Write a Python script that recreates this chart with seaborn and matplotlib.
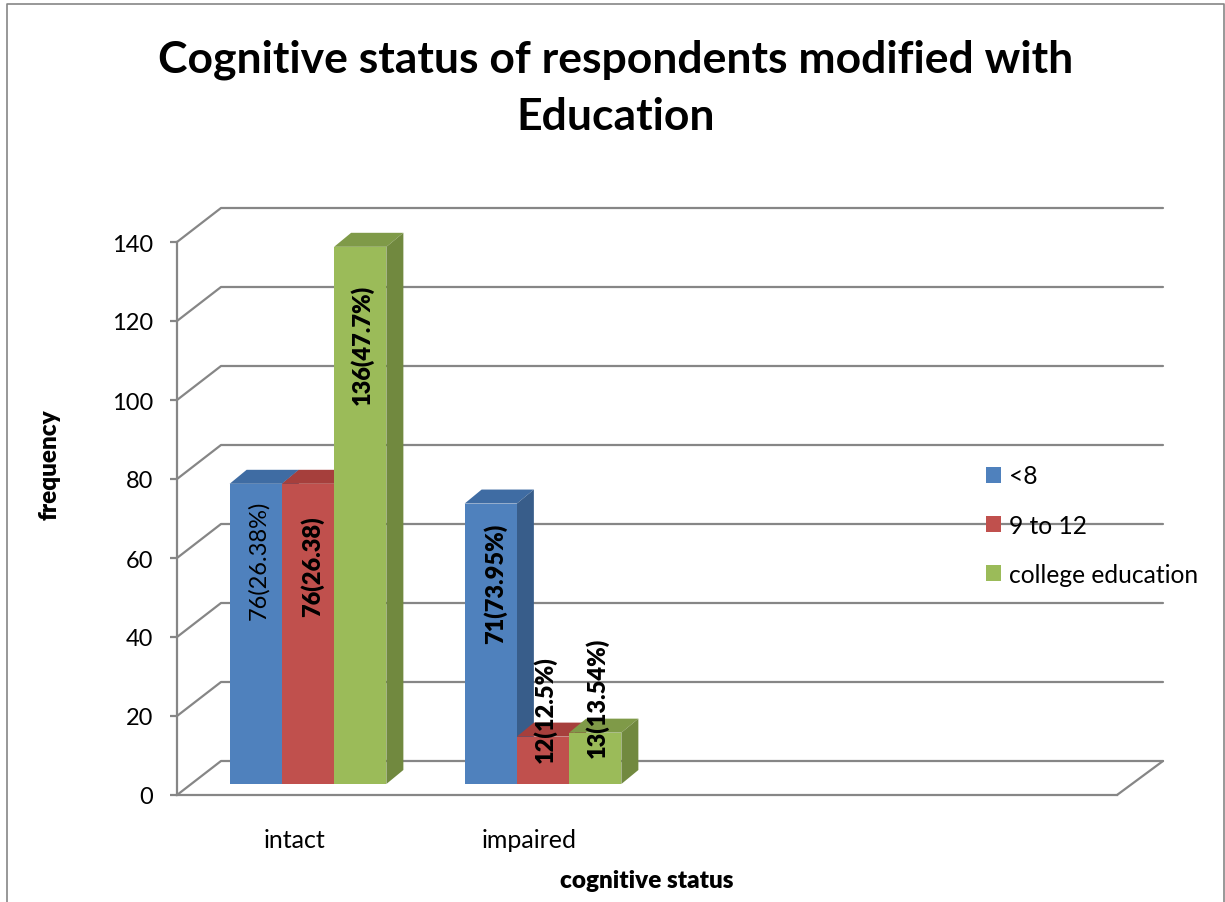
# Imports
import pandas as pd
import matplotlib
matplotlib.use('Agg')
import matplotlib.pyplot as plt
import seaborn as sns
from matplotlib.lines import Line2D
from matplotlib.patches import Polygon
from matplotlib.transforms import Affine2D, IdentityTransform

# Chart values
categories = ['intact', 'impaired']
education = ['<8', '9 to 12', 'college education']
low_values = [76, 71]
mid_values = [76, 12]
high_values = [136, 13]
low_labels = ['76(26.38%)', '71(73.95%)']
mid_labels = ['76(26.38)', '12(12.5%)']
high_labels = ['136(47.7%)', '13(13.54%)']
y_ticks = [0, 20, 40, 60, 80, 100, 120, 140]

# Colours
front_colors = ['#4F81BD', '#C0504D', '#9BBB59']
side_colors = ['#385D8A', '#8C3A38', '#71893F']
top_colors = ['#3F6CA3', '#A63F3C', '#7F9A48']
line_color = '#868686'

# Layout in pixels, y measured from the top of the picture
W, H = 1225, 903
wall_dx, wall_dy = 44, 34
bar_dx, bar_dy = 17, 14
bar_shift_x, bar_shift_y = 13.5, 11
back_right = 1163
font = ['Lato', 'DejaVu Sans']

df = pd.DataFrame({
    'status': categories * 3,
    'education': [e for e in education for _ in categories],
    'frequency': low_values + mid_values + high_values,
})

sns.set_theme(style='white')
plt.rcParams['font.family'] = font
plt.rcParams['text.color'] = 'black'

fig = plt.figure(figsize=(W / 100, H / 100), dpi=100)
ax = fig.add_axes([177 / W, 1 - 796 / H, 940 / W, 553 / H])
ax.patch.set_alpha(0)

sns.barplot(data=df, x='status', y='frequency', hue='education', order=categories,
            hue_order=education, palette=front_colors, width=0.667, gap=0,
            saturation=1, errorbar=None, linewidth=0, ax=ax, zorder=10)
ax.set_xlim(-0.5, 3.5)
ax.set_ylim(0, 140)

# Walls and floor behind the bars
x0, y0 = ax.transData.transform((-0.5, 0))
x1 = ax.transData.transform((3.5, 0))[0]
for v in y_ticks:
    y = ax.transData.transform((0, v))[1]
    ax.plot([x0, x0 + wall_dx, back_right], [y, y + wall_dy, y + wall_dy],
            transform=IdentityTransform(), color=line_color, lw=1.6,
            clip_on=False, zorder=1, scalex=False, scaley=False)
ax.plot([back_right, x1], [y0 + wall_dy, y0], transform=IdentityTransform(),
        color=line_color, lw=1.6, clip_on=False, zorder=1, scalex=False, scaley=False)

# Fake 3d: move the fronts forward and add side and top faces
shift = Affine2D().translate(bar_shift_x, bar_shift_y)
z = 2
centers = {}
for i in range(len(categories)):
    for j, container in enumerate(ax.containers):
        bar = container.patches[i]
        (l, b), (r, t) = ax.transData.transform(
            [(bar.get_x(), 0), (bar.get_x() + bar.get_width(), bar.get_height())])
        l, r = l + bar_shift_x, r + bar_shift_x
        b, t = b + bar_shift_y, t + bar_shift_y
        ax.add_patch(Polygon([(l, t), (r, t), (r + bar_dx, t + bar_dy), (l + bar_dx, t + bar_dy)],
                             transform=IdentityTransform(), color=top_colors[j], lw=0,
                             clip_on=False, zorder=z))
        ax.add_patch(Polygon([(r, b), (r + bar_dx, b + bar_dy), (r + bar_dx, t + bar_dy), (r, t)],
                             transform=IdentityTransform(), color=side_colors[j], lw=0,
                             clip_on=False, zorder=z + 1))
        bar.set_transform(ax.transData + shift)
        bar.set_clip_on(False)
        bar.set_zorder(z + 2)
        centers[(i, j)] = ((l + r) / 2, t)
        z += 3

# Bar labels, placed by hand relative to the top centre of the bars
all_labels = [low_labels, mid_labels, high_labels]
label_offsets = {(0, 0): (3, -76), (0, 1): (4, -82), (0, 2): (2, -97),
                 (1, 0): (5, -79), (1, 1): (2, 28), (1, 2): (2, 36)}
label_bold = {(0, 0): False, (0, 1): True, (0, 2): True,
              (1, 0): True, (1, 1): True, (1, 2): True}
for (i, j), (cx, top) in centers.items():
    dx, dy = label_offsets[(i, j)]
    ax.text(cx + dx, top + dy, all_labels[j][i], transform=IdentityTransform(),
            rotation=90, ha='center', va='center', fontsize=17, color='black',
            fontweight='heavy' if label_bold[(i, j)] else 'normal',
            clip_on=False, zorder=z + 1)

# Axes
sns.despine(ax=ax, top=True, right=True)
for side in ['left', 'bottom']:
    ax.spines[side].set_color(line_color)
    ax.spines[side].set_linewidth(1.6)
ax.set_yticks(y_ticks)
ax.set_xticks(range(len(categories)))
ax.set_xticklabels(categories)
ax.tick_params(axis='y', length=5, width=1.6, color=line_color, left=True, pad=12, labelsize=17, labelcolor='black')
ax.tick_params(axis='x', length=0, pad=24, labelsize=18, labelcolor='black')
ax.set_xlabel('')
ax.set_ylabel('')

fig.text(50 / W, 1 - 465 / H, 'frequency', rotation=90, ha='center', va='center',
         fontsize=17.5, fontweight='heavy', color='black')
fig.text(647 / W, 1 - 881 / H, 'cognitive status', ha='center', va='center',
         fontsize=17.5, fontweight='heavy', color='black')
fig.text(616 / W, 1 - 88 / H, 'Cognitive status of respondents modified with\nEducation',
         ha='center', va='center', fontsize=32, fontweight='bold', color='black', linespacing=1.52)

# Legend
sns.move_legend(ax, loc='center left', bbox_to_anchor=(986 / W, 1 - 526 / H),
                bbox_transform=fig.transFigure, frameon=False, title=None, fontsize=17.7,
                handlelength=0.62, handleheight=0.62, handletextpad=0.3, labelspacing=1.06,
                borderpad=0, borderaxespad=0)
ax.get_legend().set_zorder(z + 2)

# Frame of the chart, cut off at the bottom of the picture
fig.add_artist(Line2D([7 / W, 7 / W, 1224 / W, 1224 / W], [0, 1 - 5 / H, 1 - 5 / H, 0],
                      color=line_color, lw=1.2))

fig.savefig('out.png', dpi=100)
